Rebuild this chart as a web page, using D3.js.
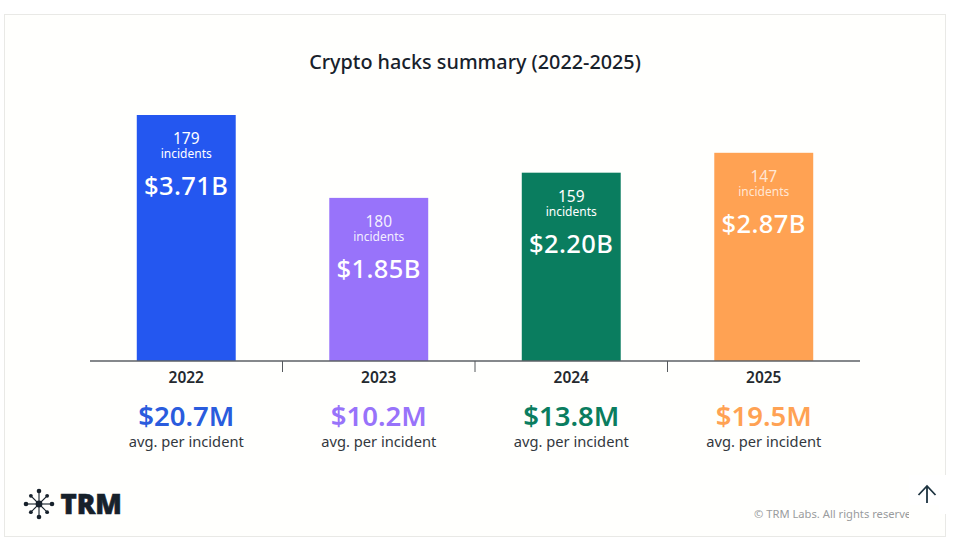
<!DOCTYPE html>
<html>
<head>
<meta charset="utf-8">
<script src="https://cdn.jsdelivr.net/npm/d3@7"></script>
<style>
  html, body { margin: 0; padding: 0; background: #fff; }
  svg { display: block; }
  text { font-family: "Noto Sans", Lato, sans-serif; }
</style>
</head>
<body>
<svg id="chart" width="957" height="548"></svg>
<script>
// data
var years = ["2022", "2023", "2024", "2025"];
var totalLabels = ["$3.71B", "$1.85B", "$2.20B", "$2.87B"];
// bar heights as drawn, in $B. the source does not draw the bars to scale with their labels
var barValues = [3.71, 2.46, 2.84, 3.14];
var incidents = [179, 180, 159, 147];
var avgLabels = ["$20.7M", "$10.2M", "$13.8M", "$19.5M"];
var colors = ["#2457F0", "#9873FA", "#0A7D5F", "#FFA253"];
var avgColors = ["#2A5CDD", "#9873FA", "#0A7D5F", "#FFA253"];
var incidentOpacity = [1, 0.9, 1, 0.75];

var svg = d3.select("#chart");

// card
svg.append("rect")
  .attr("x", 4.5).attr("y", 14.5)
  .attr("width", 941).attr("height", 522)
  .attr("fill", "#fffffd")
  .attr("stroke", "#e9e9e6");

svg.append("text")
  .attr("x", 475).attr("y", 69)
  .attr("text-anchor", "middle")
  .attr("font-size", 19.8)
  .attr("font-weight", 500)
  .attr("fill", "#17212b")
  .text("Crypto hacks summary (2022-2025)");

var x = d3.scaleBand().domain(years).range([90, 860]).paddingInner(0.486).paddingOuter(0.243);
var xStep = d3.scaleBand().domain(years).range([90, 860]);
var y = d3.scaleLinear().domain([0, 3.71]).range([361, 115]);

// bars
var bars = svg.selectAll(".bar").data(years).enter().append("g").attr("class", "bar");

bars.append("rect")
  .attr("x", function(d){ return x(d); })
  .attr("width", x.bandwidth())
  .attr("y", function(d, i){ return y(barValues[i]); })
  .attr("height", function(d, i){ return y(0) - y(barValues[i]); })
  .attr("fill", function(d, i){ return colors[i]; });

function cx(d){ return x(d) + x.bandwidth() / 2; }
function barTop(i){ return y(barValues[i]); }

bars.append("text")
  .attr("x", cx)
  .attr("y", function(d, i){ return barTop(i) + 29; })
  .attr("text-anchor", "middle")
  .attr("font-size", 15.5)
  .attr("fill", "#fff")
  .attr("fill-opacity", function(d, i){ return incidentOpacity[i]; })
  .text(function(d, i){ return incidents[i]; });

bars.append("text")
  .attr("x", cx)
  .attr("y", function(d, i){ return barTop(i) + 43; })
  .attr("text-anchor", "middle")
  .attr("font-size", 12)
  .attr("fill", "#fff")
  .attr("fill-opacity", function(d, i){ return incidentOpacity[i]; })
  .text("incidents");

bars.append("text")
  .attr("x", cx)
  .attr("y", function(d, i){ return barTop(i) + 80; })
  .attr("text-anchor", "middle")
  .attr("font-size", 25.5)
  .attr("letter-spacing", 0.4)
  .attr("font-weight", 500)
  .attr("fill", "#fff")
  .text(function(d, i){ return totalLabels[i]; });

// axis line and the ticks between years
var axis = svg.append("g");
axis.append("line")
  .attr("x1", 90).attr("x2", 860)
  .attr("y1", 361).attr("y2", 361)
  .attr("stroke", "#5c6064").attr("stroke-width", 1.4);
axis.selectAll(".tick").data(years.slice(1)).enter().append("line")
  .attr("class", "tick")
  .attr("x1", function(d){ return xStep(d); })
  .attr("x2", function(d){ return xStep(d); })
  .attr("y1", 361).attr("y2", 372)
  .attr("stroke", "#55595d").attr("stroke-width", 1);

// under the axis
var under = svg.selectAll(".under").data(years).enter().append("g").attr("class", "under");

under.append("text")
  .attr("x", cx).attr("y", 383)
  .attr("text-anchor", "middle")
  .attr("font-size", 15.5)
  .attr("font-weight", 600)
  .attr("fill", "#24292e")
  .text(function(d){ return d; });

under.append("text")
  .attr("x", cx).attr("y", 425.5)
  .attr("text-anchor", "middle")
  .attr("font-size", 27.5)
  .attr("font-weight", 600)
  .attr("fill", function(d, i){ return avgColors[i]; })
  .text(function(d, i){ return avgLabels[i]; });

under.append("text")
  .attr("x", cx).attr("y", 447)
  .attr("text-anchor", "middle")
  .attr("font-size", 14.7)
  .attr("fill", "#33383d")
  .text("avg. per incident");

// logo
var logo = svg.append("g").attr("transform", "translate(39,504)");
var spokes = d3.range(8).map(function(i){ return i * Math.PI / 4; });
logo.selectAll("line").data(spokes).enter().append("line")
  .attr("x2", function(a, i){ return Math.cos(a) * (i % 2 ? 11.5 : 13); })
  .attr("y2", function(a, i){ return Math.sin(a) * (i % 2 ? 11.5 : 13); })
  .attr("stroke", "#17212b").attr("stroke-width", 1.1);
logo.selectAll("circle").data(spokes).enter().append("circle")
  .attr("cx", function(a, i){ return Math.cos(a) * (i % 2 ? 11.5 : 13); })
  .attr("cy", function(a, i){ return Math.sin(a) * (i % 2 ? 11.5 : 13); })
  .attr("r", function(a, i){ return i % 2 ? 1.9 : 2.3; })
  .attr("fill", "#17212b");
logo.append("circle").attr("r", 3.4).attr("fill", "#17212b");

svg.append("text")
  .attr("x", 60.5).attr("y", 514)
  .attr("font-family", "Lato")
  .attr("font-size", 27.5)
  .attr("font-weight", 900)
  .attr("stroke", "#17212b")
  .attr("stroke-width", 0.6)
  .attr("fill", "#17212b")
  .text("TRM");

svg.append("text")
  .attr("x", 754).attr("y", 517.5)
  .attr("font-size", 11.2)
  .attr("fill", "#9a9c9e")
  .text("© TRM Labs. All rights reserved");

// back to top button covers the end of the footer
svg.append("rect")
  .attr("x", 909).attr("y", 475)
  .attr("width", 48).attr("height", 39)
  .attr("fill", "#fff");
svg.append("rect")
  .attr("x", 909).attr("y", 505)
  .attr("width", 30).attr("height", 20)
  .attr("fill", "#fffffd");

var arrow = d3.path();
arrow.moveTo(927, 503); arrow.lineTo(927, 486);
arrow.moveTo(918.5, 495); arrow.lineTo(927, 486); arrow.lineTo(935.5, 495);
svg.append("path")
  .attr("d", arrow.toString())
  .attr("fill", "none")
  .attr("stroke", "#1d3340")
  .attr("stroke-width", 1.8);
</script>
</body>
</html>
